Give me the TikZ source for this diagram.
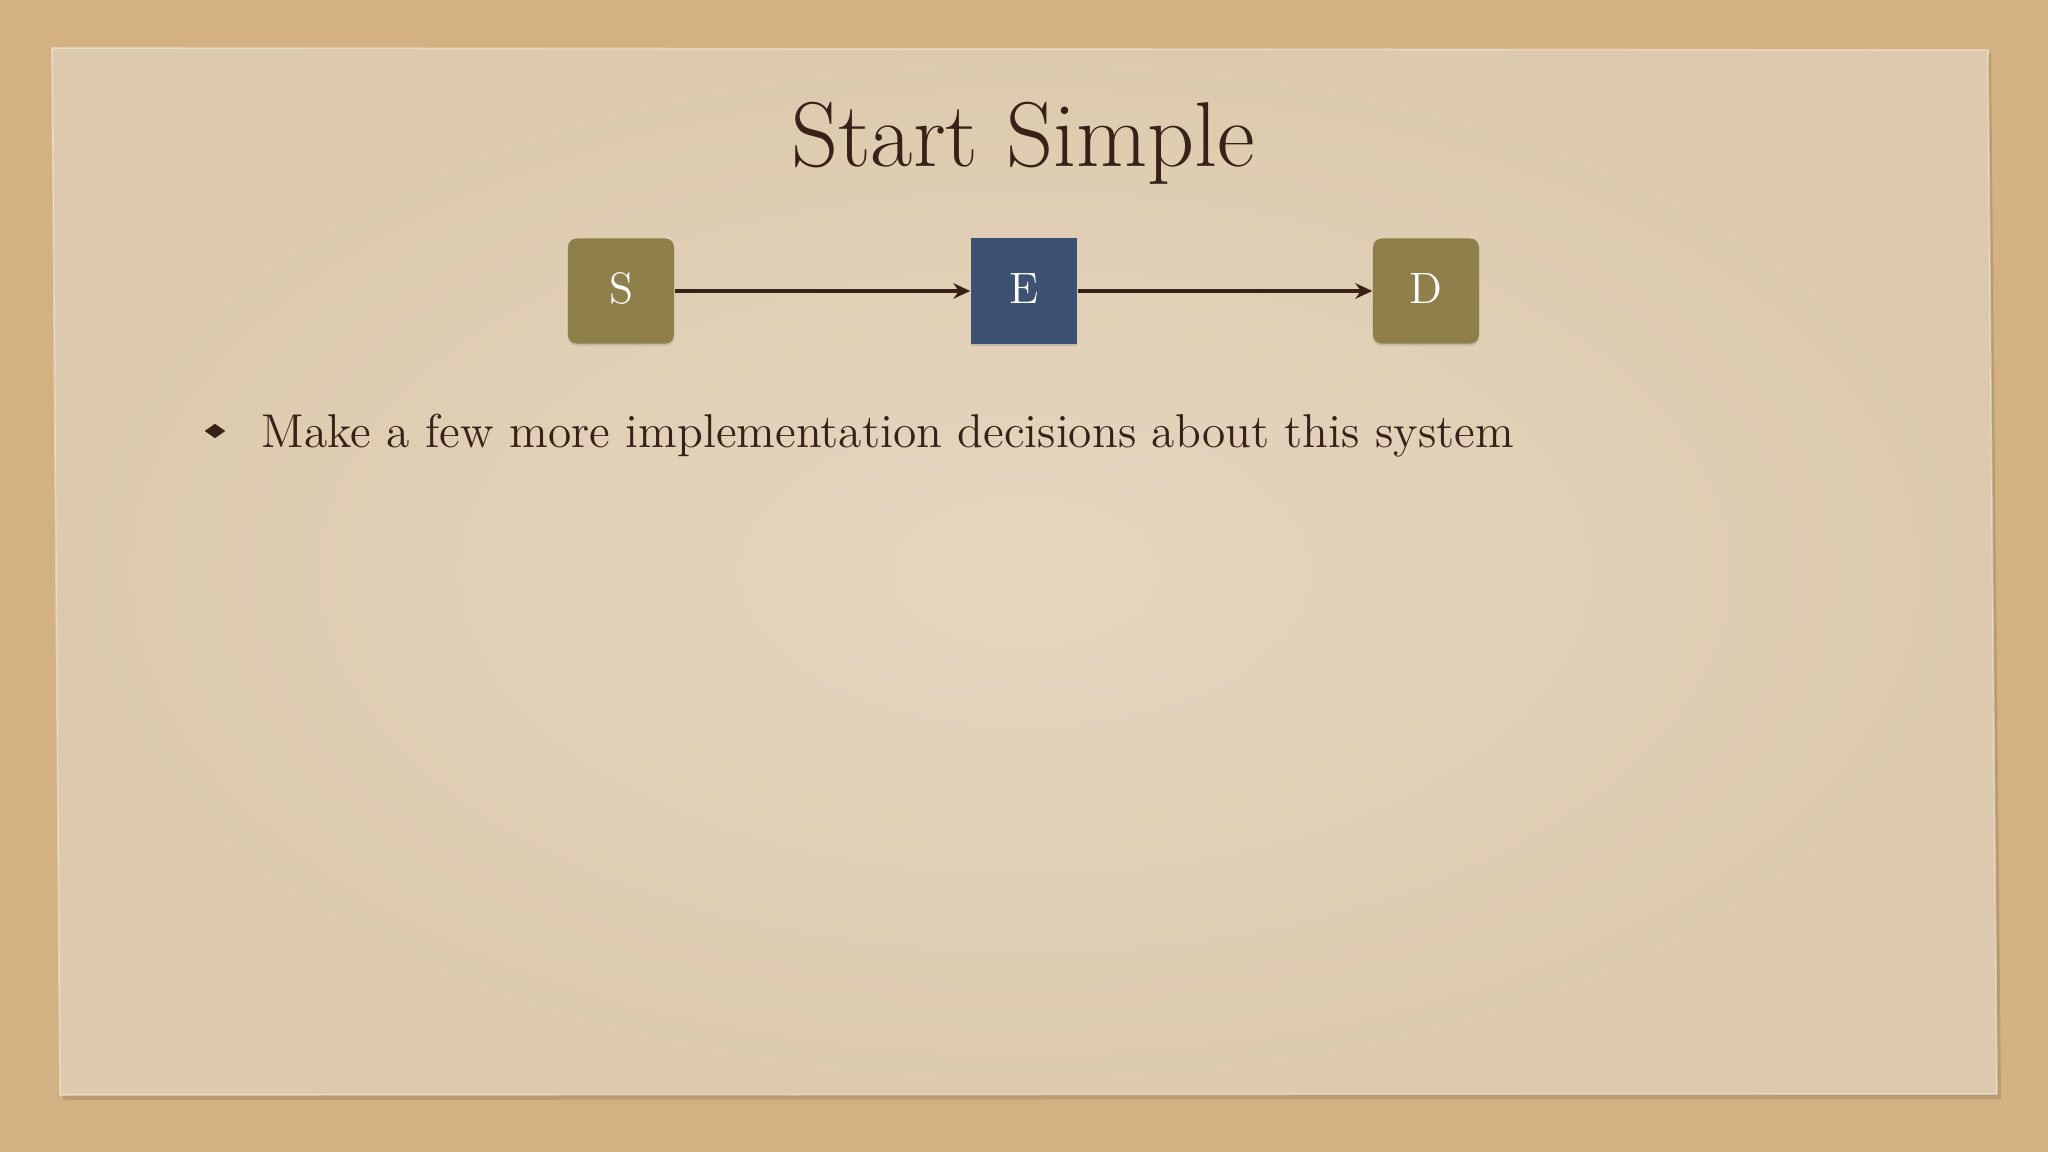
\documentclass[tikz,border=0pt]{standalone}
\usepackage{tikz}
\usepackage{color}
\usepackage{amsmath}
\usetikzlibrary{shapes.geometric, shadows, arrows.meta}

\definecolor{cork}{RGB}{212,177,130}
\definecolor{paper}{RGB}{221,202,174}
\definecolor{paperlight}{RGB}{230,214,192}
\definecolor{olive}{RGB}{143,127,74}
\definecolor{slate}{RGB}{61,81,115}
\definecolor{ink}{RGB}{58,33,24}

\begin{document}
\begin{tikzpicture}[x=0.01cm, y=-0.01cm,
	box/.style={rectangle, minimum width=1.06cm, minimum height=1.05cm, inner sep=0pt, text=white,
		font=\fontsize{12.5}{15}\selectfont, drop shadow={shadow xshift=0pt, shadow yshift=-0.6pt, opacity=0.3}},
	link/.style={->, >={Stealth[length=4.8pt, width=4.4pt]}, line width=0.9pt, draw=ink}]
				% background and sheet of paper
				\fill[cork] (0,0) rectangle (2048,1152);
				\useasboundingbox (0,0) rectangle (2048,1152);
				\fill[black, opacity=0.12] (55,52) -- (1991,54) -- (2001,1099) -- (63,1100) -- cycle;
				\shade[inner color=paperlight, outer color=paper] (52,48) -- (1988,50) -- (1997,1094) -- (60,1095) -- cycle;
				\draw[white, opacity=0.35, line width=0.5pt] (52,48) -- (1988,50) -- (1997,1094) -- (60,1095) -- cycle;
				% title
				\node[anchor=base, inner sep=0pt, text=ink, font=\fontsize{26.2}{30}\selectfont] (title)at(1023, 167) {Start Simple};
				% the three blocks
				\node[box, fill=olive, rounded corners=2.5pt] (S)at(621, 291) {\raisebox{1.5pt}{S}};
				\node[box, fill=slate] (E)at(1024, 291) {\raisebox{1.5pt}{E}};
				\node[box, fill=olive, rounded corners=2.5pt] (D)at(1426, 291) {\raisebox{1.5pt}{D}};
				\draw[link] (S) -- (E);
				\draw[link] (E) -- (D);
				% bullet point
				\node[diamond, fill=ink, inner sep=0pt, minimum width=0.21cm, minimum height=0.15cm] (dot)at(215, 431) {};
				\node[anchor=base west, inner sep=0pt, text=ink, font=\fontsize{13.5}{17}\selectfont] (item)at(261, 448) {Make a few more implementation decisions about this system};
			\end{tikzpicture}
\end{document}
